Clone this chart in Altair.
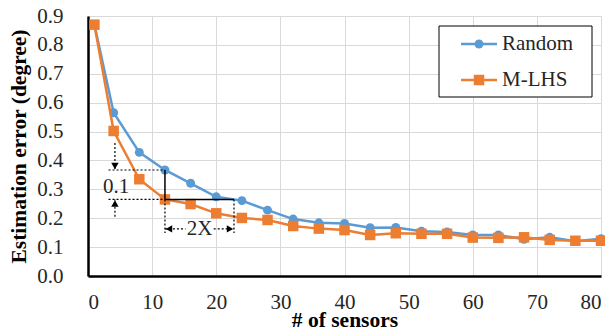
import altair as alt
import pandas as pd
import numpy as np

# ---- data ----
sensors = [1, 4, 8, 12, 16, 20, 24, 28, 32, 36, 40, 44, 48, 52, 56, 60, 64, 68, 72, 76, 80]
random_err = [0.870, 0.565, 0.428, 0.367, 0.321, 0.274, 0.261, 0.228, 0.197, 0.184, 0.182,
              0.167, 0.168, 0.155, 0.152, 0.142, 0.142, 0.127, 0.134, 0.120, 0.129]
mlhs_err = [0.870, 0.502, 0.335, 0.265, 0.249, 0.217, 0.201, 0.194, 0.173, 0.164, 0.159,
            0.142, 0.148, 0.146, 0.146, 0.133, 0.132, 0.134, 0.125, 0.122, 0.122]
series_names = ["Random", "M-LHS"]
series_colors = ["#5B9BD5", "#ED7D31"]
x_ticks = [0, 10, 20, 30, 40, 50, 60, 70, 80]
y_ticks = [0.0, 0.1, 0.2, 0.3, 0.4, 0.5, 0.6, 0.7, 0.8, 0.9]

FONT = "Liberation Serif"
W, H = 513, 260

df = pd.DataFrame({
    "x": sensors * 2,
    "y": random_err + mlhs_err,
    "series": [series_names[0]] * len(sensors) + [series_names[1]] * len(sensors),
})

xscale = alt.Scale(domain=[0, 80], nice=False)
yscale = alt.Scale(domain=[0, 0.9], nice=False)
xaxis = alt.Axis(values=x_ticks, title="# of sensors", labelFontSize=21, titleFontSize=21.5,
                 titleFontWeight="bold", tickSize=0, labelPadding=15, domainColor="black",
                 domainWidth=2.5, gridColor="#d9d9d9", gridWidth=1, labelColor="#262626",
                 titleColor="black", titleY=50, titleBaseline="alphabetic",
                 labelFont=FONT, titleFont=FONT)
yaxis = alt.Axis(values=y_ticks, format=".1f", title="Estimation error (degree)",
                 labelFontSize=21, titleFontSize=21.5, titleFontWeight="bold", tickSize=0,
                 labelPadding=25, domainColor="black", domainWidth=2.5, gridColor="#d9d9d9",
                 gridWidth=1, labelColor="#262626", titleColor="black", titleX=-69,
                 titleBaseline="middle", labelFont=FONT, titleFont=FONT)


def X(f="x"):
    return alt.X(f, type="quantitative", scale=xscale, axis=xaxis)


def Y(f="y"):
    return alt.Y(f, type="quantitative", scale=yscale, axis=yaxis)


layers = []
shapes = ["circle", "square"]
sizes = [80, 110]
for name, col, shp, sz in zip(series_names, series_colors, shapes, sizes):
    sub = df[df["series"] == name]
    layers.append(alt.Chart(sub).mark_line(color=col, strokeWidth=2.5).encode(x=X(), y=Y()))
    layers.append(alt.Chart(sub).mark_point(shape=shp, filled=True, color=col, size=sz, opacity=1)
                  .encode(x=X(), y=Y()))

# ---- annotation derived from the data ----
i12 = sensors.index(12)
y_hi = random_err[i12]
y_lo = mlhs_err[i12]
j = next(k for k, v in enumerate(random_err) if v <= y_lo)
x_match = sensors[j - 1] + (random_err[j - 1] - y_lo) / (random_err[j - 1] - random_err[j]) * (sensors[j] - sensors[j - 1])
x_arrow = 4.2
x_dot0 = 3.2
y_span = 0.163
y_drop = 0.149

dotted = pd.DataFrame([
    (x_dot0, y_hi, 12, y_hi),
    (x_dot0, y_lo, 12, y_lo),
    (12, y_lo, 12, y_drop),
    (x_match, y_lo, x_match, y_drop),
    (x_arrow, 0.46, x_arrow, y_hi),
    (x_arrow, 0.205, x_arrow, y_lo),
    (12, y_span, 15.2, y_span),
    (19.6, y_span, x_match, y_span),
], columns=["x", "y", "x2", "y2"])
solid = pd.DataFrame([
    (12, y_hi, 12, y_lo),
    (12, y_lo, x_match, y_lo),
], columns=["x", "y", "x2", "y2"])

layers.append(alt.Chart(dotted).mark_rule(color="black", strokeWidth=1.2, strokeDash=[2, 2])
              .encode(x=X(), y=Y(), x2="x2", y2="y2"))
layers.append(alt.Chart(solid).mark_rule(color="black", strokeWidth=1.5)
              .encode(x=X(), y=Y(), x2="x2", y2="y2"))

heads = [
    (x_arrow, y_hi, "triangle-down", 0, -4),
    (x_arrow, y_lo, "triangle-up", 0, 4),
    (12, y_span, "triangle-left", 4, 0),
    (x_match, y_span, "triangle-right", -4, 0),
]
for hx, hy, shp, dx, dy in heads:
    layers.append(alt.Chart(pd.DataFrame({"x": [hx], "y": [hy]}))
                  .mark_point(shape=shp, filled=True, color="black", size=55, opacity=1,
                              xOffset=dx, yOffset=dy)
                  .encode(x=X(), y=Y()))

labels = pd.DataFrame({"x": [4.4, 17.4], "y": [0.309, y_span], "t": ["0.1", "2X"]})
layers.append(alt.Chart(labels).mark_text(font=FONT, fontSize=21, color="#262626",
                                          baseline="middle", align="center")
              .encode(x=X(), y=Y(), text="t:N"))

# ---- legend box ----
one = alt.Data(values=[{}])
layers.append(alt.Chart(one).mark_rect(fill="white", stroke="black", strokeWidth=1)
              .encode(x=alt.value(351), x2=alt.value(504), y=alt.value(10), y2=alt.value(81)))
for i, (name, col, shp, sz) in enumerate(zip(series_names, series_colors, shapes, sizes)):
    ly = 28 + 36 * i
    layers.append(alt.Chart(one).mark_rule(color=col, strokeWidth=2.5)
                  .encode(x=alt.value(373), x2=alt.value(409), y=alt.value(ly)))
    layers.append(alt.Chart(one).mark_point(shape=shp, filled=True, color=col, size=sz, opacity=1)
                  .encode(x=alt.value(391), y=alt.value(ly)))
    layers.append(alt.Chart(one).mark_text(text=name, font=FONT, fontSize=21, color="#262626",
                                           align="left", baseline="middle")
                  .encode(x=alt.value(414), y=alt.value(ly)))

chart = alt.layer(*layers).properties(
    width=W, height=H,
    autosize=alt.AutoSizeParams(type="none"),
    padding={"left": 80, "top": 8, "right": 4, "bottom": 59},
).configure_view(stroke="#404040", strokeWidth=1.5).configure(font=FONT)

chart.save("out.html", embed_options={"renderer": "svg", "actions": False})
